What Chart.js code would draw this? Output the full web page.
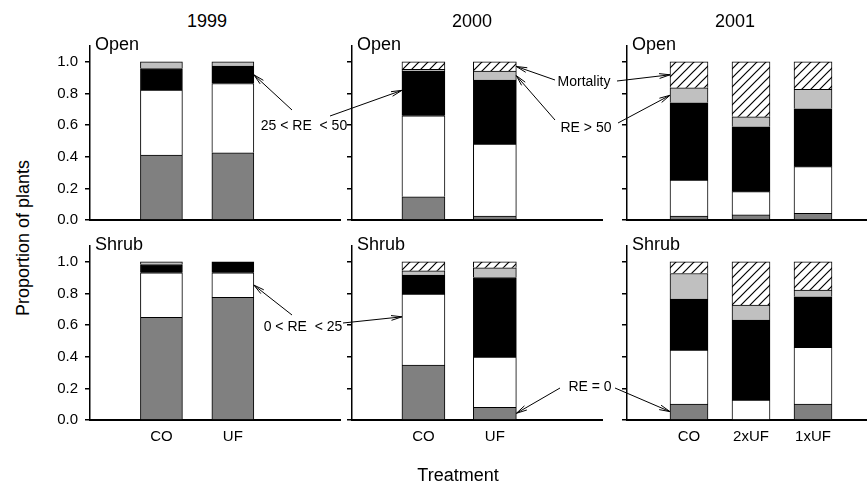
<!DOCTYPE html>
<html>
<head>
<meta charset="utf-8">
<script src="https://cdn.jsdelivr.net/npm/chart.js@4.4.1/dist/chart.umd.min.js"></script>
<style>
  body { margin: 0; background: #fff; }
  #page { position: relative; width: 867px; height: 485px; overflow: hidden; font-family: "Liberation Sans", Arial, sans-serif; color: #000; }
  #page canvas { position: absolute; }
  .lbl { position: absolute; white-space: pre; line-height: 1; }
  .big { font-size: 18px; }
  .note { font-size: 14px; }
</style>
</head>
<body>
<div id="page"></div>
<script>
// Categories and values
const years = ["1999", "2000", "2001"];
const habitats = ["Open", "Shrub"];
const treatments1999 = ["CO", "UF"];
const treatments2000 = ["CO", "UF"];
const treatments2001 = ["CO", "2xUF", "1xUF"];
const classes = ["RE = 0", "0 < RE < 25", "25 < RE < 50", "RE > 50", "Mortality"];
const yTicks = [0, 0.2, 0.4, 0.6, 0.8, 1.0];

// Proportions per treatment, in the order of classes (bottom to top)
const open1999 = [[0.411, 0.41, 0.137, 0.042, 0], [0.425, 0.438, 0.11, 0.027, 0]];
const open2000 = [[0.147, 0.512, 0.282, 0.011, 0.048], [0.025, 0.455, 0.404, 0.057, 0.059]];
const open2001 = [[0.025, 0.228, 0.488, 0.095, 0.164], [0.032, 0.147, 0.41, 0.064, 0.347], [0.042, 0.295, 0.366, 0.123, 0.174]];
const shrub1999 = [[0.649, 0.282, 0.052, 0.017, 0], [0.775, 0.156, 0.069, 0, 0]];
const shrub2000 = [[0.347, 0.449, 0.12, 0.027, 0.057], [0.08, 0.318, 0.503, 0.061, 0.038]];
const shrub2001 = [[0.101, 0.341, 0.322, 0.162, 0.074], [0, 0.126, 0.506, 0.094, 0.274], [0.101, 0.358, 0.32, 0.042, 0.179]];

// Layout of the 2 x 3 grid
const page = document.getElementById("page");
const colAxisX = [90, 352, 627];
const colWidth = [250, 250, 248];
const colMax = [3.5, 3.5, 4];
const colBar = [42, 43, 38];
const rowTop = [46, 246];
const plotH = 174;
const yAxisW = 50;
const yearX = [207, 472, 735];

Chart.defaults.font.family = '"Liberation Sans", Arial, sans-serif';
Chart.defaults.color = "#000";

// Diagonal hatching for mortality
const makeHatch = () => {
  const c = document.createElement("canvas");
  c.width = 9; c.height = 9;
  const g = c.getContext("2d");
  g.fillStyle = "#fff";
  g.fillRect(0, 0, 9, 9);
  g.strokeStyle = "#000";
  g.lineWidth = 1.2;
  g.beginPath();
  g.moveTo(-1, 10); g.lineTo(10, -1);
  g.moveTo(-1, 1); g.lineTo(1, -1);
  g.moveTo(8, 10); g.lineTo(10, 8);
  g.stroke();
  return g.createPattern(c, "repeat");
};
const fills = ["#808080", "#ffffff", "#000000", "#c0c0c0", makeHatch()];

const addLabel = (text, cls, x, y, transform) => {
  const d = document.createElement("div");
  d.className = "lbl " + cls;
  d.textContent = text;
  d.style.left = x + "px";
  d.style.top = y + "px";
  d.style.transform = transform;
  page.appendChild(d);
};

const makePanel = (row, col, cats, values) => {
  const xh = row === 1 ? 30 : 6;
  const canvas = document.createElement("canvas");
  canvas.width = yAxisW + colWidth[col] + 2;
  canvas.height = 2 + plotH + xh;
  canvas.style.left = (colAxisX[col] - yAxisW) + "px";
  canvas.style.top = (rowTop[row] - 2) + "px";
  page.appendChild(canvas);

  const datasets = classes.map((name, k) => ({
    label: name,
    data: cats.map((c, i) => ({ x: i + 1, y: values[i][k] })),
    backgroundColor: fills[k],
    borderColor: "#000",
    borderWidth: 1,
    barThickness: colBar[col],
  }));

  return new Chart(canvas, {
    type: "bar",
    data: { datasets },
    options: {
      responsive: false,
      animation: false,
      events: [],
      layout: { padding: { top: 2, right: 2 } },
      plugins: { legend: { display: false }, tooltip: { enabled: false } },
      scales: {
        x: {
          type: "linear", stacked: true, offset: false, min: 0, max: colMax[col],
          border: { color: "#000", width: 2 },
          grid: { display: false, drawTicks: false },
          afterBuildTicks: (axis) => { axis.ticks = cats.map((c, i) => ({ value: i + 1 })); },
          ticks: {
            display: row === 1, padding: 8, autoSkip: false, maxRotation: 0,
            font: { size: 15 }, callback: (v) => cats[v - 1],
          },
          afterFit: (axis) => { axis.height = xh; axis.paddingLeft = 0; axis.paddingRight = 0; },
        },
        y: {
          stacked: true, min: 0, max: 1.1,
          border: { color: "#000", width: 1.5 },
          grid: { drawOnChartArea: false, drawTicks: true, tickLength: 5, color: "#000", lineWidth: 1.5 },
          afterBuildTicks: (axis) => { axis.ticks = yTicks.map((v) => ({ value: v })); },
          ticks: { padding: 7, font: { size: 15 }, callback: (v) => (col === 0 ? v.toFixed(1) : "") },
          afterFit: (axis) => { axis.width = yAxisW; axis.paddingTop = 0; axis.paddingBottom = 0; },
        },
      },
    },
  });
};

const charts = [
  makePanel(0, 0, treatments1999, open1999),
  makePanel(0, 1, treatments2000, open2000),
  makePanel(0, 2, treatments2001, open2001),
  makePanel(1, 0, treatments1999, shrub1999),
  makePanel(1, 1, treatments2000, shrub2000),
  makePanel(1, 2, treatments2001, shrub2001),
];

// Titles and axis labels
years.forEach((y, c) => addLabel(y, "big", yearX[c], 21, "translate(-50%,-50%)"));
habitats.forEach((h, r) => colAxisX.forEach((x) => addLabel(h, "big", x + 5, rowTop[r] - 2, "translate(0,-50%)")));
addLabel("Proportion of plants", "big", 23, 238, "translate(-50%,-50%) rotate(-90deg)");
addLabel("Treatment", "big", 458, 475, "translate(-50%,-50%)");

// Annotations: text plus arrows pointing at a segment (panel, treatment, class)
const notes = [
  { text: "25 < RE  < 50", x: 304, y: 125, arrows: [
    { from: [292, 110], panel: 0, cat: 1, cls: 2, side: "right" },
    { from: [330, 116], panel: 1, cat: 0, cls: 2, side: "left", pos: 0.57 } ] },
  { text: "Mortality", x: 584, y: 81, arrows: [
    { from: [555, 80], panel: 1, cat: 1, cls: 4, side: "right" },
    { from: [617, 81], panel: 2, cat: 0, cls: 4, side: "left" } ] },
  { text: "RE > 50", x: 586, y: 127, arrows: [
    { from: [555, 120], panel: 1, cat: 1, cls: 3, side: "right" },
    { from: [618, 123], panel: 2, cat: 0, cls: 3, side: "left" } ] },
  { text: "0 < RE  < 25", x: 303, y: 326, arrows: [
    { from: [292, 315], panel: 3, cat: 1, cls: 1, side: "right" },
    { from: [343, 323], panel: 4, cat: 0, cls: 1, side: "left", pos: 0.68 } ] },
  { text: "RE = 0", x: 590, y: 386, arrows: [
    { from: [560, 388], panel: 4, cat: 1, cls: 0, side: "right" },
    { from: [615, 388], panel: 5, cat: 0, cls: 0, side: "left" } ] },
];

const overlay = document.createElement("canvas");
overlay.width = 867; overlay.height = 485;
overlay.style.left = "0px"; overlay.style.top = "0px";
page.appendChild(overlay);
const ctx = overlay.getContext("2d");
ctx.strokeStyle = "#000";
ctx.lineWidth = 1;

const drawArrow = (x0, y0, x1, y1) => {
  const ang = Math.atan2(y1 - y0, x1 - x0);
  ctx.beginPath();
  ctx.moveTo(x0, y0);
  ctx.lineTo(x1, y1);
  [-0.22, 0.22].forEach((d) => {
    ctx.moveTo(x1, y1);
    ctx.lineTo(x1 - 11 * Math.cos(ang + d), y1 - 11 * Math.sin(ang + d));
  });
  ctx.stroke();
};

notes.forEach((n) => {
  addLabel(n.text, "note", n.x, n.y, "translate(-50%,-50%)");
  n.arrows.forEach((a) => {
    const ch = charts[a.panel];
    const el = ch.getDatasetMeta(a.cls).data[a.cat];
    const left = parseFloat(ch.canvas.style.left);
    const top = parseFloat(ch.canvas.style.top);
    const tipX = left + el.x + (a.side === "right" ? el.width / 2 : -el.width / 2);
    const tipY = top + el.base + (el.y - el.base) * (a.pos ?? 0.5);
    drawArrow(a.from[0], a.from[1], tipX, tipY);
  });
});
</script>
</body>
</html>
